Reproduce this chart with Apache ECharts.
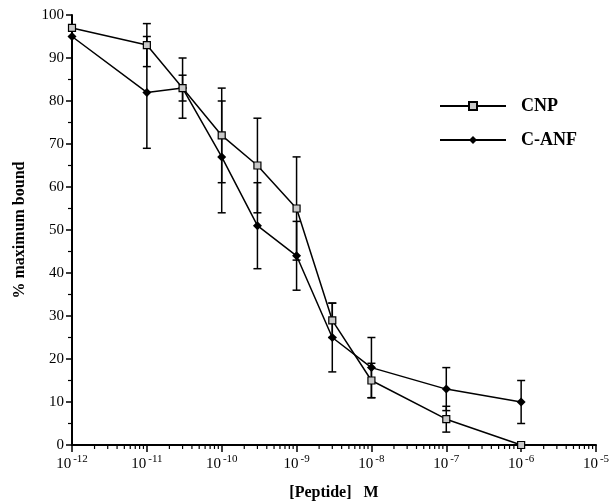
<!DOCTYPE html>
<html>
<head>
<meta charset="utf-8">
<script src="https://cdn.jsdelivr.net/npm/echarts@6/dist/echarts.min.js"></script>
<style>
html,body{margin:0;padding:0;background:#fff;}
#chart{width:615px;height:502px;}
</style>
</head>
<body>
<div id="chart"></div>
<script>
// Peptide concentrations (M)
var concentrations = [1e-12, 1e-11, 3e-11, 1e-10, 3e-10, 1e-9, 3e-9, 1e-8, 1e-7, 1e-6];
var cnpMean  = [97, 93, 83, 72, 65, 55, 29, 15, 6, 0];
var cnpErr   = [0, 5, 7, 11, 11, 12, 4, 4, 3, 0];
var canfConc = [1e-12, 1e-11, 3e-11, 1e-10, 3e-10, 1e-9, 3e-9, 1e-8, 1e-7, 1e-6];
var canfMean = [95, 82, 83, 67, 51, 44, 25, 18, 13, 10];
var canfErr  = [0, 13, 3, 13, 10, 8, 8, 7, 5, 5];
var seriesNames = ['CNP', 'C-ANF'];
var yTicks = [0, 10, 20, 30, 40, 50, 60, 70, 80, 90, 100];
var xDecades = [-12, -11, -10, -9, -8, -7, -6, -5];

var FONT = '"Liberation Serif", "DejaVu Serif", serif';

function errData(xs, ms, es) {
  var out = [];
  for (var i = 0; i < xs.length; i++) {
    if (es[i] > 0) out.push([xs[i], ms[i] - es[i], ms[i] + es[i]]);
  }
  return out;
}
function errRender(params, api) {
  var x = api.value(0), lo = api.value(1), hi = api.value(2);
  var pLo = api.coord([x, lo]);
  var pHi = api.coord([x, hi]);
  var w = 4;
  var st = {stroke: '#000', lineWidth: 1.5};
  return {
    type: 'group',
    children: [
      {type: 'line', shape: {x1: pLo[0], y1: pLo[1], x2: pHi[0], y2: pHi[1]}, style: st},
      {type: 'line', shape: {x1: pLo[0] - w, y1: pLo[1], x2: pLo[0] + w, y2: pLo[1]}, style: st},
      {type: 'line', shape: {x1: pHi[0] - w, y1: pHi[1], x2: pHi[0] + w, y2: pHi[1]}, style: st}
    ]
  };
}
// minor tick positions on log axis (2..9 x 10^n)
var minorTickVals = [];
for (var d = 0; d < xDecades.length - 1; d++) {
  for (var k = 2; k <= 9; k++) minorTickVals.push([k * Math.pow(10, xDecades[d]), 0]);
}
function minorRender(params, api) {
  var p = api.coord([api.value(0), 0]);
  return {type: 'line', shape: {x1: p[0], y1: p[1], x2: p[0], y2: p[1] + 4}, style: {stroke: '#000', lineWidth: 1.2}};
}

var chart = echarts.init(document.getElementById('chart'));
chart.setOption({
  animation: false,
  backgroundColor: '#fff',
  grid: {left: 72, right: 19, top: 15, bottom: 57, containLabel: false, outerBoundsMode: 'none'},
  legend: {
    orient: 'vertical',
    left: 434,
    top: 92,
    itemWidth: 66,
    itemHeight: 10,
    itemGap: 16,
    data: seriesNames,
    textStyle: {fontFamily: FONT, fontWeight: 'bold', fontSize: 18, color: '#000', padding: [0, 0, 0, 10]}
  },
  xAxis: {
    type: 'log',
    logBase: 10,
    min: 1e-12,
    max: 1e-5,
    interval: 1,
    name: '[Peptide]   M',
    nameLocation: 'middle',
    nameGap: 40,
    nameTextStyle: {fontFamily: FONT, fontWeight: 'bold', fontSize: 16, color: '#000'},
    axisLine: {lineStyle: {color: '#000', width: 2}},
    axisTick: {show: true, length: 7, lineStyle: {color: '#000', width: 1.5}},
    splitLine: {show: false},
    minorTick: {show: false},
    axisLabel: {
      margin: 9,
      formatter: function (v) {
        var e = Math.round(Math.log(v) / Math.LN10);
        return '{b|10}{s|' + (e < 0 ? '-' : '') + Math.abs(e) + '}';
      },
      rich: {
        b: {fontFamily: FONT, fontSize: 15, color: '#000'},
        s: {fontFamily: FONT, fontSize: 11, color: '#000', padding: [0, 0, 9, 2]}
      }
    }
  },
  yAxis: {
    type: 'value',
    min: 0,
    max: 100,
    interval: 10,
    name: '% maximum bound',
    nameLocation: 'middle',
    nameGap: 44,
    nameTextStyle: {fontFamily: FONT, fontWeight: 'bold', fontSize: 16, color: '#000'},
    axisLine: {show: true, lineStyle: {color: '#000', width: 2}},
    axisTick: {show: true, length: 6, lineStyle: {color: '#000', width: 1.5}},
    minorTick: {show: true, splitNumber: 2, length: 4, lineStyle: {color: '#000', width: 1.2}},
    splitLine: {show: false},
    axisLabel: {
      margin: 8,
      fontFamily: FONT, fontSize: 15, color: '#000',
      formatter: function (v) { return yTicks.indexOf(v) >= 0 ? String(v) : ''; }
    }
  },
  series: [
    {
      type: 'custom',
      name: 'minor',
      silent: true,
      renderItem: minorRender,
      data: minorTickVals,
      clip: false,
      z: 1
    },
    {
      type: 'custom',
      name: 'cnpErr',
      silent: true,
      renderItem: errRender,
      data: errData(concentrations, cnpMean, cnpErr),
      z: 2
    },
    {
      type: 'custom',
      name: 'canfErr',
      silent: true,
      renderItem: errRender,
      data: errData(canfConc, canfMean, canfErr),
      z: 2
    },
    {
      type: 'line',
      name: 'C-ANF',
      data: canfConc.map(function (x, i) { return [x, canfMean[i]]; }),
      symbol: 'diamond',
      symbolSize: 9,
      showAllSymbol: true,
      lineStyle: {color: '#000', width: 1.5},
      itemStyle: {color: '#000', borderColor: '#000', borderWidth: 0},
      clip: false,
      z: 3
    },
    {
      type: 'line',
      name: 'CNP',
      data: concentrations.map(function (x, i) { return [x, cnpMean[i]]; }),
      symbol: 'rect',
      symbolSize: 7,
      showAllSymbol: true,
      lineStyle: {color: '#000', width: 1.5},
      itemStyle: {color: '#c8c8c8', borderColor: '#000', borderWidth: 1.2},
      clip: false,
      z: 4
    }
  ]
});
</script>
</body>
</html>
